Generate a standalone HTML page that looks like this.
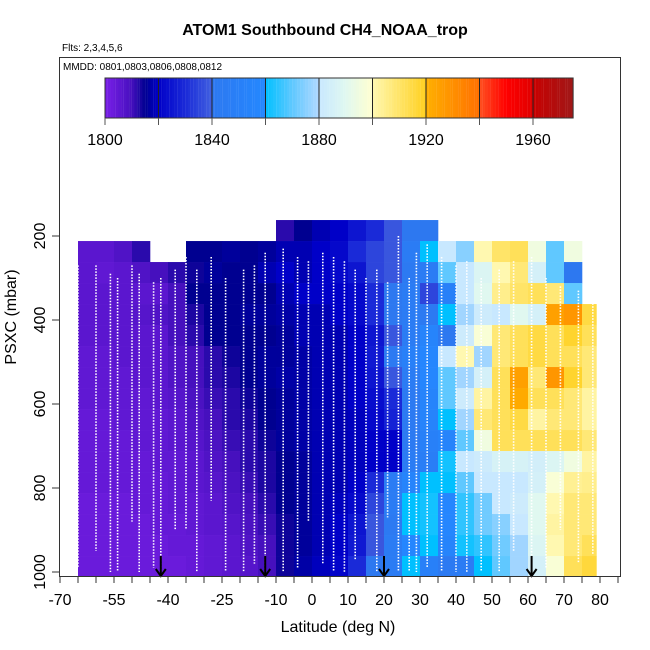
<!DOCTYPE html>
<html><head><meta charset="utf-8"><style>
html,body{margin:0;padding:0;background:#fff;}
svg{display:block;font-family:"Liberation Sans",Arial,sans-serif;}
</style></head><body>
<svg id="chart" width="650" height="650" viewBox="0 0 650 650" xmlns="http://www.w3.org/2000/svg">
<text x="325" y="35" text-anchor="middle" font-size="16" font-weight="bold">ATOM1 Southbound CH4_NOAA_trop</text>
<text x="62" y="51" font-size="10">Flts: 2,3,4,5,6</text>
<g id="cells"></g>
<g id="tracks"></g>
<g id="arrows"></g>
<g id="cbar"></g>
<text x="63" y="70" font-size="10">MMDD: 0801,0803,0806,0808,0812</text>
<rect x="59.5" y="57.5" width="561" height="519" fill="none" stroke="#333" stroke-width="1"/>
<g id="axes"></g>
<text x="338" y="632" text-anchor="middle" font-size="16">Latitude (deg N)</text>
<text transform="translate(16,317) rotate(-90)" text-anchor="middle" font-size="16">PSXC (mbar)</text>
</svg>
<script>
const latEdges=[-65,-60,-55,-50,-45,-40,-35,-30,-25,-20,-15,-10,-5,0,5,10,15,20,25,30,35,40,45,50,55,60,65,70,75,80];
const pressCenters=[187,237,287,337,387,437,487,537,587,637,687,737,787,837,887,937,987];
const N=null;
const ch4Rows=[
[N,N,N,N,N,N,N,N,N,N,N,1812,1815,1818,1820,1825,1830,1838,1840,1840,N,N,N,N,N,N,N,N,N],
[1806,1806,1808,1812,N,N,1815,1815,1816,1815,1816,1818,1818,1820,1822,1830,1835,1838,1845,1860,1880,1875,1900,1910,1912,1895,1870,1895,N],
[1806,1805,1806,1808,1810,1812,1814,1816,1815,1815,1818,1820,1818,1820,1822,1825,1835,1838,1842,1845,1870,1880,1888,1900,1908,1885,1870,1840,N],
[1806,1806,1806,1806,1806,1810,1815,1815,1815,1815,1815,1818,1820,1820,1820,1822,1830,1840,1845,1835,1850,1880,1890,1905,1910,1912,1908,1870,N],
[1806,1806,1806,1807,1808,1810,1813,1815,1815,1816,1816,1817,1818,1818,1820,1822,1830,1840,1845,1842,1860,1878,1882,1880,1890,1885,1925,1928,1915],
[1806,1806,1806,1806,1806,1810,1812,1815,1815,1815,1815,1816,1818,1818,1818,1820,1825,1838,1845,1855,1840,1882,1898,1908,1912,1915,1912,1918,1912],
[1805,1805,1806,1806,1806,1808,1810,1812,1814,1815,1816,1816,1817,1818,1818,1820,1826,1842,1850,1858,1880,1900,1878,1908,1912,1915,1912,1912,1908],
[1805,1805,1805,1806,1806,1808,1810,1812,1813,1815,1816,1817,1817,1818,1818,1820,1825,1838,1845,1858,1870,1878,1885,1912,1925,1908,1928,1918,1908],
[1805,1805,1805,1805,1806,1807,1809,1811,1812,1814,1815,1816,1817,1818,1818,1820,1823,1830,1842,1855,1870,1882,1902,1912,1922,1912,1912,1908,1902],
[1804,1804,1805,1805,1805,1806,1808,1810,1812,1813,1815,1816,1817,1818,1818,1819,1822,1828,1842,1855,1860,1878,1908,1912,1915,1902,1908,1908,1902],
[1804,1804,1804,1805,1805,1806,1807,1809,1811,1812,1814,1816,1817,1818,1818,1819,1820,1820,1842,1850,1855,1870,1895,1912,1912,1912,1912,1912,1908],
[1804,1804,1804,1804,1805,1805,1806,1808,1810,1812,1813,1815,1816,1818,1818,1819,1820,1820,1845,1848,1862,1880,1882,1886,1886,1884,1888,1895,1902],
[1804,1804,1804,1804,1804,1805,1806,1807,1809,1811,1813,1815,1816,1818,1818,1820,1830,1845,1855,1860,1860,1870,1880,1880,1880,1885,1898,1904,1905],
[1803,1803,1803,1804,1804,1805,1805,1806,1808,1810,1812,1815,1816,1818,1819,1822,1835,1845,1860,1862,1858,1865,1872,1880,1882,1890,1900,1908,1908],
[1803,1803,1803,1803,1804,1804,1805,1806,1807,1809,1811,1814,1816,1818,1820,1825,1838,1842,1860,1862,1858,1865,1872,1875,1880,1890,1902,1908,1908],
[1803,1803,1803,1803,1803,1804,1804,1805,1806,1808,1810,1814,1816,1818,1820,1826,1838,1845,1858,1860,1855,1862,1865,1872,1878,1888,1900,1908,1912],
[1803,1803,1803,1803,1803,1803,1804,1805,1806,1807,1810,1814,1817,1819,1821,1830,1840,1845,1860,1850,1842,1845,1860,1870,1878,1885,1898,1912,1916]
];
const profileLats=[-65,-60,-56,-54,-50,-48,-44,-42,-38,-35,-32,-28,-24,-19,-16,-13,-8,-4,-1,3,6,9,12,15,18,21,24,27,29,32,36,40,43,47,52,56,61,65,69,74,78];
const profileTops=[270,270,290,300,270,290,310,300,280,250,280,250,300,280,270,240,230,250,260,240,250,260,280,300,280,310,200,300,240,220,250,270,260,300,280,260,250,300,320,330,360];
const profileBottoms=[990,950,1000,1000,880,1000,990,1000,900,900,1000,830,1000,1000,980,1000,1000,990,880,980,1000,1000,970,900,1000,870,1000,1000,1000,990,1000,1000,1000,1000,1000,950,960,990,900,980,960];
const arrowLats=[-42,-13,20,61];
const cbarTicks=[1800,1840,1880,1920,1960];
const cbarStops=[[1800,[122,31,232]],[1810,[70,16,190]],[1815,[0,0,144]],[1820,[0,0,200]],[1830,[26,42,216]],[1839.9,[64,96,224]],[1840,[45,120,240]],[1859.9,[36,136,255]],[1860,[0,192,255]],[1870,[96,200,255]],[1879.9,[176,216,255]],[1880,[200,232,255]],[1890,[224,248,240]],[1899.9,[255,255,208]],[1900,[255,248,176]],[1919.9,[255,208,32]],[1920,[255,176,0]],[1939.9,[255,112,0]],[1940,[255,80,32]],[1950,[255,0,0]],[1959.9,[224,0,0]],[1960,[200,0,0]],[1975,[160,24,24]]];

const NS='http://www.w3.org/2000/svg';
const xScale=lat=>60+(lat+70)*3.6;
const yScale=p=>236+(p-200)*0.42;
const cScale=v=>105+(v-1800)*2.675;
function color(v){
  if(v<=cbarStops[0][0])return 'rgb('+cbarStops[0][1]+')';
  for(let i=1;i<cbarStops.length;i++){
    if(v<=cbarStops[i][0]){const a=cbarStops[i-1],b=cbarStops[i];const t=(v-a[0])/(b[0]-a[0]);
      const c=a[1].map((x,k)=>Math.round(x+(b[1][k]-x)*t));return 'rgb('+c.join(',')+')';}
  }
  return 'rgb('+cbarStops[cbarStops.length-1][1]+')';
}
function mk(tag,attrs,parent){const e=document.createElementNS(NS,tag);for(const k in attrs)e.setAttribute(k,attrs[k]);parent.appendChild(e);return e;}

const cells=document.getElementById('cells');
ch4Rows.forEach((row,r)=>{
  const y0=yScale(pressCenters[r]-25),y1=yScale(pressCenters[r]+25);
  row.forEach((v,c)=>{
    if(v===null)return;
    const x0=xScale(latEdges[c]),x1=xScale(Math.min(latEdges[c+1],79));
    const e=mk('rect',{x:x0,y:y0,width:x1-x0+0.3,height:Math.min(y1,576)-y0+0.3,fill:color(v)},cells);
    
    
  });
});

const tracks=document.getElementById('tracks');
profileLats.forEach((lat,i)=>{
  const x=xScale(lat);
  const e=mk('line',{x1:x,x2:x,y1:yScale(profileTops[i]),y2:yScale(profileBottoms[i]),stroke:'#fff','stroke-width':1.6,'stroke-dasharray':'1.5 1.5'},tracks);
  
  
});

const arrows=document.getElementById('arrows');
arrowLats.forEach(lat=>{
  const x=xScale(lat);
  const g=mk('g',{},arrows);
  
  
  mk('line',{x1:x,x2:x,y1:556,y2:576,stroke:'#000','stroke-width':2},g);
  mk('path',{d:`M${x-5},${569} L${x},${576} L${x+5},${569}`,fill:'none',stroke:'#000','stroke-width':2},g);
});

const cbar=document.getElementById('cbar');
for(let v=1800;v<1975;v+=1){
  const e=mk('rect',{x:cScale(v),y:78,width:2.8,height:40,fill:color(v+0.5)},cbar);
  
  
}
for(let v=1820;v<1975;v+=20){mk('line',{x1:cScale(v),x2:cScale(v),y1:78,y2:118,stroke:'#222','stroke-width':1},cbar);}
mk('rect',{x:105,y:78,width:cScale(1975)-105,height:40,fill:'none',stroke:'#333','stroke-width':1},cbar);
cbarTicks.forEach(v=>{
  const x=cScale(v);
  mk('line',{x1:x,x2:x,y1:118,y2:125,stroke:'#555'},cbar);
  const t=mk('text',{x:x,y:145,'text-anchor':'middle','font-size':16},cbar);
  t.textContent=v;
  
  
});
for(let v=1820;v<1975;v+=20){mk('line',{x1:cScale(v),x2:cScale(v),y1:118,y2:125,stroke:'#555'},cbar);}

const axes=document.getElementById('axes');
for(let lat=-70;lat<=85;lat+=5){
  const x=xScale(lat);
  mk('line',{x1:x,x2:x,y1:576,y2:583,stroke:'#333'},axes);
}
[-70,-55,-40,-25,-10,0,10,20,30,40,50,60,70,80].forEach(lat=>{
  const t=mk('text',{x:xScale(lat),y:605,'text-anchor':'middle','font-size':16},axes);
  t.textContent=lat;
  
  
});
[200,400,600,800,1000].forEach(p=>{
  const y=yScale(p);
  mk('line',{x1:52,x2:59.5,y1:y,y2:y,stroke:'#333'},axes);
  const t=mk('text',{'text-anchor':'middle','font-size':16,transform:`translate(45,${y}) rotate(-90)`},axes);
  t.textContent=p;
  
  
});
</script>
</body></html>
